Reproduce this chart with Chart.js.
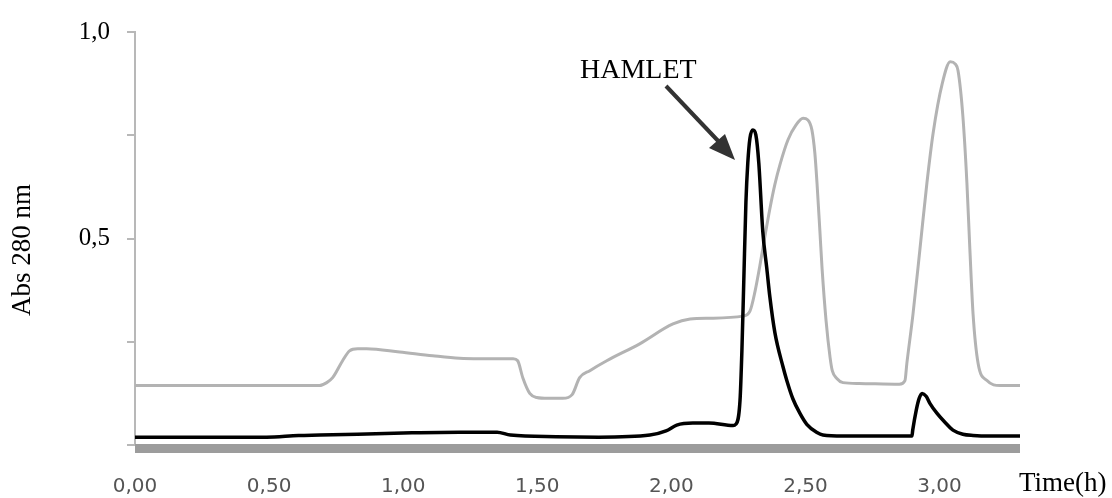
<!DOCTYPE html>
<html>
<head>
<meta charset="utf-8">
<script src="https://cdn.jsdelivr.net/npm/chart.js@4/dist/chart.umd.min.js"></script>
<style>
  body { margin: 0; background: #fff; }
  #chart { display: block; }
</style>
</head>
<body>
<canvas id="chart" width="1112" height="498"></canvas>
<script>
  // black trace (HAMLET fraction), time in hours / absorbance
  const timeHamlet = [0, 0.49, 0.61, 0.69, 1.00, 1.21, 1.35, 1.40, 1.57, 1.73, 1.92, 1.98, 2.02, 2.08, 2.14, 2.23,
    2.24, 2.256, 2.263, 2.27, 2.278, 2.285, 2.293, 2.304, 2.315, 2.326, 2.341, 2.356, 2.367, 2.386,
    2.416, 2.431, 2.453, 2.479, 2.505, 2.543, 2.565, 2.64, 2.897, 2.90, 2.913, 2.924, 2.935, 2.95, 2.964,
    2.99, 3.02, 3.05, 3.087, 3.125, 3.19, 3.30];
  const absHamlet = [0.019, 0.019, 0.023, 0.024, 0.029, 0.031, 0.031, 0.024, 0.020, 0.019, 0.024, 0.034, 0.048, 0.053, 0.053, 0.047,
    0.050, 0.108, 0.228, 0.396, 0.588, 0.683, 0.743, 0.763, 0.751, 0.683, 0.516, 0.427, 0.36, 0.272,
    0.19, 0.155, 0.112, 0.077, 0.050, 0.030, 0.024, 0.0216, 0.0216, 0.036, 0.084, 0.113, 0.125, 0.118, 0.101,
    0.077, 0.055, 0.036, 0.026, 0.023, 0.0216, 0.0216];

  // grey trace
  const timeOther = [0, 0.688, 0.715, 0.737, 0.774, 0.80, 0.83, 0.864, 0.987, 1.11, 1.21, 1.285, 1.41, 1.427,
    1.446, 1.472, 1.498, 1.54, 1.595, 1.63, 1.658, 1.696, 1.759, 1.882, 2.006, 2.07, 2.143, 2.267, 2.293,
    2.312, 2.33, 2.349, 2.367, 2.386, 2.405, 2.435, 2.465, 2.491, 2.509, 2.524, 2.535, 2.543, 2.554, 2.562, 2.577,
    2.592, 2.60, 2.617, 2.64, 2.70, 2.85, 2.871, 2.878, 2.901, 2.927, 2.953, 2.976, 3.01, 3.04, 3.058,
    3.069, 3.087, 3.102, 3.113, 3.125, 3.144, 3.177, 3.226, 3.30];
  const absOther = [0.144, 0.144, 0.151, 0.163, 0.204, 0.228, 0.233, 0.233, 0.225, 0.216, 0.210, 0.209, 0.209, 0.204,
    0.163, 0.125, 0.115, 0.113, 0.113, 0.122, 0.163, 0.180, 0.204, 0.245, 0.293, 0.305, 0.307, 0.312, 0.324,
    0.372, 0.434, 0.506, 0.571, 0.631, 0.679, 0.739, 0.775, 0.791, 0.787, 0.763, 0.707, 0.635, 0.516, 0.427, 0.300,
    0.211, 0.180, 0.161, 0.151, 0.149, 0.147, 0.156, 0.197, 0.317, 0.475, 0.635, 0.755, 0.875, 0.928, 0.923,
    0.906, 0.796, 0.635, 0.475, 0.317, 0.197, 0.156, 0.144, 0.144];

  const xTicks = [0, 0.5, 1.0, 1.5, 2.0, 2.5, 3.0];
  const yLabels = {1: '1,0', 0.5: '0,5'};

  const pts = (xs, ys) => xs.map((x, i) => ({x: x, y: ys[i]}));

  const decor = {
    id: 'decor',
    afterDraw(chart) {
      const ctx = chart.ctx;
      const a = chart.chartArea;
      const y0 = chart.scales.y.getPixelForValue(0);
      ctx.save();
      // thick grey base bar
      ctx.fillStyle = '#9c9c9c';
      ctx.fillRect(a.left, y0 - 1, a.right - a.left, 9);

      ctx.fillStyle = '#000';
      ctx.textBaseline = 'alphabetic';
      ctx.textAlign = 'left';
      ctx.font = '28px "Liberation Serif"';
      ctx.fillText('HAMLET', 580, 78);
      ctx.font = '27px "Liberation Serif"';
      ctx.fillText('Time(h)', 1019, 491);

      // y title
      ctx.save();
      ctx.translate(30, 250);
      ctx.rotate(-Math.PI / 2);
      ctx.textAlign = 'center';
      ctx.fillText('Abs 280 nm', 0, 0);
      ctx.restore();

      // arrow
      ctx.strokeStyle = '#333';
      ctx.fillStyle = '#333';
      ctx.lineWidth = 4;
      ctx.beginPath();
      ctx.moveTo(666, 86);
      ctx.lineTo(722, 145);
      ctx.stroke();
      ctx.beginPath();
      ctx.moveTo(735, 160);
      ctx.lineTo(709, 148);
      ctx.lineTo(725, 134);
      ctx.closePath();
      ctx.fill();
      ctx.restore();
    }
  };

  new Chart(document.getElementById('chart'), {
    type: 'line',
    data: {
      datasets: [
        {data: pts(timeHamlet, absHamlet), borderColor: '#000', borderWidth: 3.5,
         pointRadius: 0, cubicInterpolationMode: 'monotone'},
        {data: pts(timeOther, absOther), borderColor: '#b3b3b3', borderWidth: 3,
         pointRadius: 0, cubicInterpolationMode: 'monotone'}
      ]
    },
    options: {
      responsive: false,
      animation: false,
      layout: {padding: {top: 28, right: 92, left: 0, bottom: 0}},
      plugins: {legend: {display: false}, tooltip: {enabled: false}},
      scales: {
        x: {
          type: 'linear', min: 0, max: 3.30,
          afterFit: s => { s.height = 53; },
          afterBuildTicks: s => { s.ticks = xTicks.map(v => ({value: v})); },
          grid: {display: false, drawTicks: false},
          border: {display: false},
          ticks: {
            padding: 30, color: '#555',
            font: {family: '"DejaVu Sans"', size: 20},
            callback: v => v.toFixed(2).replace('.', ',')
          }
        },
        y: {
          min: 0, max: 1,
          afterFit: s => { s.width = 135; },
          grid: {drawOnChartArea: false, drawTicks: true, tickLength: 8, color: '#b8b8b8', lineWidth: 2},
          border: {display: true, color: '#b8b8b8', width: 2},
          ticks: {
            stepSize: 0.25, padding: 17, color: '#000',
            font: {family: '"Liberation Serif"', size: 25},
            callback: v => yLabels[v] || ''
          }
        }
      }
    },
    plugins: [decor]
  });
</script>
</body>
</html>
